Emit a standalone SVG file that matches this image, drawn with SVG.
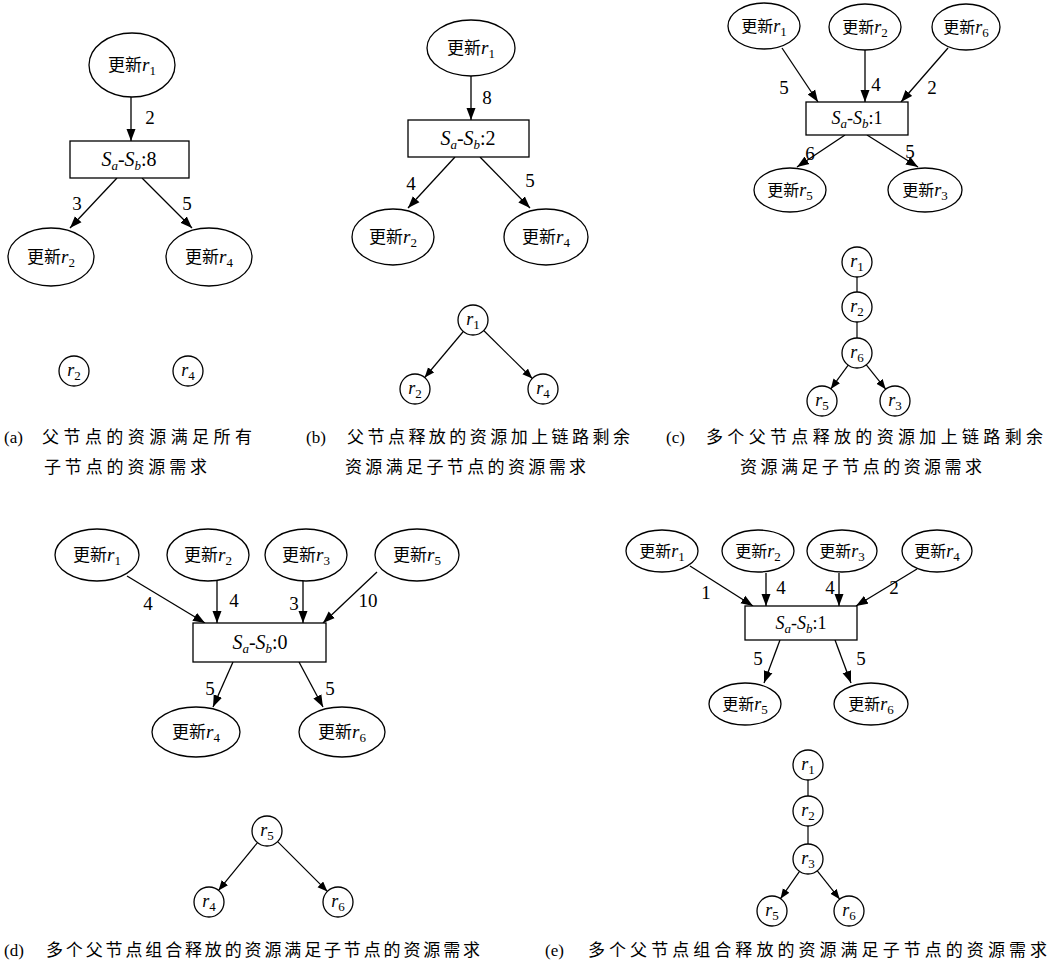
<svg xmlns="http://www.w3.org/2000/svg" width="1051" height="972" viewBox="0 0 1051 972">
<style>
.shape{fill:#fff;stroke:#000;stroke-width:1.3}
.e{stroke:#000;stroke-width:1.3;fill:none;marker-end:url(#ah)}
.es{stroke:#000;stroke-width:1.2;fill:none;marker-end:url(#ahs)}
.l{stroke:#000;stroke-width:1.2;fill:none}
text{font-family:"Liberation Serif","Noto Sans CJK SC",serif;fill:#000}
.nt{font-size:19px;text-anchor:middle}
.nc{font-size:18px;text-anchor:middle}
.bx{font-size:20px;text-anchor:middle}
.bxs{font-size:18px;text-anchor:middle}
.ns{font-size:18px;text-anchor:middle}
.cj{font-family:"Noto Sans CJK SC","Liberation Serif",sans-serif;font-size:17px}
.nc .cj{font-size:16px}
.it{font-style:italic}
.sb{font-size:13px}
.lb{font-size:19px;text-anchor:middle}
.cap{font-size:17px}
.capc{font-family:"Noto Sans CJK SC",sans-serif;font-size:17px}
</style>
<defs>
<marker id="ah" markerUnits="userSpaceOnUse" markerWidth="13" markerHeight="10" refX="12" refY="5" orient="auto"><path d="M0,0.5 L12,5 L0,9.5 z" fill="#000"/></marker>
<marker id="ahs" markerUnits="userSpaceOnUse" markerWidth="11" markerHeight="9" refX="10" refY="4" orient="auto"><path d="M0,0 L10,4 L0,8 z" fill="#000"/></marker>
</defs>

<g id="connectors">
<line class="e" x1="131" y1="97" x2="131" y2="141"/>
<line class="e" x1="117" y1="178" x2="70" y2="228"/>
<line class="e" x1="142" y1="178" x2="192" y2="228"/>
<line class="e" x1="471" y1="76" x2="471" y2="120"/>
<line class="e" x1="455" y1="157" x2="408" y2="208"/>
<line class="e" x1="480" y1="157" x2="530" y2="208"/>
<line class="es" x1="463.3" y1="331.5" x2="424.7" y2="377.5"/>
<line class="es" x1="483.7" y1="330.5" x2="532.3" y2="378.5"/>
<line class="e" x1="782" y1="48" x2="818" y2="102"/>
<line class="e" x1="865" y1="50" x2="865" y2="102"/>
<line class="e" x1="948" y1="48" x2="901" y2="102"/>
<line class="e" x1="845" y1="135" x2="797" y2="167"/>
<line class="e" x1="867" y1="135" x2="918" y2="167"/>
<line class="l" x1="857" y1="277" x2="857" y2="292"/>
<line class="l" x1="857" y1="322" x2="857" y2="338"/>
<line class="es" x1="848.2" y1="365.1" x2="830.8" y2="388.9"/>
<line class="es" x1="866.3" y1="364.8" x2="885.7" y2="389.2"/>
<line class="e" x1="127" y1="576" x2="205" y2="623"/>
<line class="e" x1="217" y1="581" x2="217" y2="623"/>
<line class="e" x1="303" y1="581" x2="303" y2="623"/>
<line class="e" x1="377" y1="572" x2="323" y2="623"/>
<line class="e" x1="233" y1="662" x2="213" y2="707"/>
<line class="e" x1="299" y1="662" x2="323" y2="707"/>
<line class="es" x1="257.5" y1="842.6" x2="218.5" y2="890.4"/>
<line class="es" x1="277.6" y1="841.6" x2="327.4" y2="891.4"/>
<line class="e" x1="690" y1="566" x2="753" y2="606"/>
<line class="e" x1="766" y1="573" x2="766" y2="606"/>
<line class="e" x1="839" y1="573" x2="839" y2="606"/>
<line class="e" x1="917" y1="569" x2="856" y2="606"/>
<line class="e" x1="780" y1="640" x2="764" y2="683"/>
<line class="e" x1="835" y1="640" x2="851" y2="683"/>
<line class="l" x1="808" y1="780" x2="808" y2="796"/>
<line class="l" x1="808" y1="826" x2="808" y2="844"/>
<line class="es" x1="799.5" y1="871.3" x2="780.5" y2="898.7"/>
<line class="es" x1="817.3" y1="870.8" x2="839.7" y2="899.2"/>
</g>

<g id="edge-labels">
<text class="lb" x="150" y="124">2</text>
<text class="lb" x="77" y="210">3</text>
<text class="lb" x="187" y="210">5</text>
<text class="lb" x="487" y="104">8</text>
<text class="lb" x="411" y="190">4</text>
<text class="lb" x="530" y="187">5</text>
<text class="lb" x="784" y="94">5</text>
<text class="lb" x="876" y="91">4</text>
<text class="lb" x="932" y="94">2</text>
<text class="lb" x="810" y="160">6</text>
<text class="lb" x="910" y="158">5</text>
<text class="lb" x="148" y="610">4</text>
<text class="lb" x="234" y="607">4</text>
<text class="lb" x="294" y="610">3</text>
<text class="lb" x="368" y="607">10</text>
<text class="lb" x="210" y="695">5</text>
<text class="lb" x="330" y="695">5</text>
<text class="lb" x="706" y="599">1</text>
<text class="lb" x="781" y="594">4</text>
<text class="lb" x="830" y="594">4</text>
<text class="lb" x="894" y="594">2</text>
<text class="lb" x="758" y="665">5</text>
<text class="lb" x="861" y="665">5</text>
</g>

<g id="a-r1"><ellipse class="shape" cx="132" cy="65" rx="43" ry="32"/><text class="nt" x="132" y="71"><tspan class="cj">更新</tspan><tspan class="it">r</tspan><tspan class="sb" dy="4">1</tspan></text></g>
<g id="a-box"><rect class="shape" x="70" y="141" width="119" height="37"/><text class="bx" x="129" y="166"><tspan class="it">S</tspan><tspan class="it sb" dy="4">a</tspan><tspan dy="-4">-</tspan><tspan class="it">S</tspan><tspan class="it sb" dy="4">b</tspan><tspan dy="-4">:8</tspan></text></g>
<g id="a-r2"><ellipse class="shape" cx="51" cy="257" rx="43" ry="29"/><text class="nt" x="51" y="263"><tspan class="cj">更新</tspan><tspan class="it">r</tspan><tspan class="sb" dy="4">2</tspan></text></g>
<g id="a-r4"><ellipse class="shape" cx="209" cy="257" rx="43" ry="29"/><text class="nt" x="209" y="263"><tspan class="cj">更新</tspan><tspan class="it">r</tspan><tspan class="sb" dy="4">4</tspan></text></g>
<g id="a-s2"><circle class="shape" cx="74" cy="371" r="15"/><text class="ns" x="74" y="376"><tspan class="it">r</tspan><tspan class="sb" dy="4">2</tspan></text></g>
<g id="a-s4"><circle class="shape" cx="188" cy="371" r="15"/><text class="ns" x="188" y="376"><tspan class="it">r</tspan><tspan class="sb" dy="4">4</tspan></text></g>

<g id="b-r1"><ellipse class="shape" cx="471" cy="48" rx="44" ry="28"/><text class="nt" x="471" y="54"><tspan class="cj">更新</tspan><tspan class="it">r</tspan><tspan class="sb" dy="4">1</tspan></text></g>
<g id="b-box"><rect class="shape" x="408" y="120" width="121" height="37"/><text class="bx" x="468" y="145"><tspan class="it">S</tspan><tspan class="it sb" dy="4">a</tspan><tspan dy="-4">-</tspan><tspan class="it">S</tspan><tspan class="it sb" dy="4">b</tspan><tspan dy="-4">:2</tspan></text></g>
<g id="b-r2"><ellipse class="shape" cx="393" cy="237" rx="41" ry="28"/><text class="nt" x="393" y="243"><tspan class="cj">更新</tspan><tspan class="it">r</tspan><tspan class="sb" dy="4">2</tspan></text></g>
<g id="b-r4"><ellipse class="shape" cx="546" cy="237" rx="42" ry="28"/><text class="nt" x="546" y="243"><tspan class="cj">更新</tspan><tspan class="it">r</tspan><tspan class="sb" dy="4">4</tspan></text></g>
<g id="b-s1"><circle class="shape" cx="473" cy="320" r="15"/><text class="ns" x="473" y="325"><tspan class="it">r</tspan><tspan class="sb" dy="4">1</tspan></text></g>
<g id="b-s2"><circle class="shape" cx="415" cy="389" r="15"/><text class="ns" x="415" y="394"><tspan class="it">r</tspan><tspan class="sb" dy="4">2</tspan></text></g>
<g id="b-s4"><circle class="shape" cx="543" cy="389" r="15"/><text class="ns" x="543" y="394"><tspan class="it">r</tspan><tspan class="sb" dy="4">4</tspan></text></g>

<g id="c-r1"><ellipse class="shape" cx="764" cy="26" rx="36" ry="23"/><text class="nc" x="764" y="32"><tspan class="cj">更新</tspan><tspan class="it">r</tspan><tspan class="sb" dy="4">1</tspan></text></g>
<g id="c-r2"><ellipse class="shape" cx="865" cy="27" rx="36" ry="23"/><text class="nc" x="865" y="33"><tspan class="cj">更新</tspan><tspan class="it">r</tspan><tspan class="sb" dy="4">2</tspan></text></g>
<g id="c-r6"><ellipse class="shape" cx="966" cy="27" rx="34" ry="23"/><text class="nc" x="966" y="33"><tspan class="cj">更新</tspan><tspan class="it">r</tspan><tspan class="sb" dy="4">6</tspan></text></g>
<g id="c-box"><rect class="shape" x="806" y="102" width="102" height="33"/><text class="bxs" x="857" y="124"><tspan class="it">S</tspan><tspan class="it sb" dy="4">a</tspan><tspan dy="-4">-</tspan><tspan class="it">S</tspan><tspan class="it sb" dy="4">b</tspan><tspan dy="-4">:1</tspan></text></g>
<g id="c-r5"><ellipse class="shape" cx="790" cy="190" rx="36" ry="22"/><text class="nc" x="790" y="196"><tspan class="cj">更新</tspan><tspan class="it">r</tspan><tspan class="sb" dy="4">5</tspan></text></g>
<g id="c-r3"><ellipse class="shape" cx="925" cy="190" rx="37" ry="22"/><text class="nc" x="925" y="196"><tspan class="cj">更新</tspan><tspan class="it">r</tspan><tspan class="sb" dy="4">3</tspan></text></g>
<g id="c-s1"><circle class="shape" cx="857" cy="262" r="15"/><text class="ns" x="857" y="267"><tspan class="it">r</tspan><tspan class="sb" dy="4">1</tspan></text></g>
<g id="c-s2"><circle class="shape" cx="857" cy="307" r="15"/><text class="ns" x="857" y="312"><tspan class="it">r</tspan><tspan class="sb" dy="4">2</tspan></text></g>
<g id="c-s6"><circle class="shape" cx="857" cy="353" r="15"/><text class="ns" x="857" y="358"><tspan class="it">r</tspan><tspan class="sb" dy="4">6</tspan></text></g>
<g id="c-s5"><circle class="shape" cx="822" cy="401" r="15"/><text class="ns" x="822" y="406"><tspan class="it">r</tspan><tspan class="sb" dy="4">5</tspan></text></g>
<g id="c-s3"><circle class="shape" cx="895" cy="401" r="15"/><text class="ns" x="895" y="406"><tspan class="it">r</tspan><tspan class="sb" dy="4">3</tspan></text></g>

<g id="d-r1"><ellipse class="shape" cx="97" cy="555" rx="42" ry="26"/><text class="nt" x="97" y="561"><tspan class="cj">更新</tspan><tspan class="it">r</tspan><tspan class="sb" dy="4">1</tspan></text></g>
<g id="d-r2"><ellipse class="shape" cx="208" cy="555" rx="41" ry="26"/><text class="nt" x="208" y="561"><tspan class="cj">更新</tspan><tspan class="it">r</tspan><tspan class="sb" dy="4">2</tspan></text></g>
<g id="d-r3"><ellipse class="shape" cx="306" cy="555" rx="41" ry="26"/><text class="nt" x="306" y="561"><tspan class="cj">更新</tspan><tspan class="it">r</tspan><tspan class="sb" dy="4">3</tspan></text></g>
<g id="d-r5"><ellipse class="shape" cx="417" cy="555" rx="42" ry="26"/><text class="nt" x="417" y="561"><tspan class="cj">更新</tspan><tspan class="it">r</tspan><tspan class="sb" dy="4">5</tspan></text></g>
<g id="d-box"><rect class="shape" x="193" y="623" width="133" height="39"/><text class="bx" x="260" y="649"><tspan class="it">S</tspan><tspan class="it sb" dy="4">a</tspan><tspan dy="-4">-</tspan><tspan class="it">S</tspan><tspan class="it sb" dy="4">b</tspan><tspan dy="-4">:0</tspan></text></g>
<g id="d-r4"><ellipse class="shape" cx="196" cy="732" rx="44" ry="25"/><text class="nt" x="196" y="738"><tspan class="cj">更新</tspan><tspan class="it">r</tspan><tspan class="sb" dy="4">4</tspan></text></g>
<g id="d-r6"><ellipse class="shape" cx="342" cy="732" rx="43" ry="25"/><text class="nt" x="342" y="738"><tspan class="cj">更新</tspan><tspan class="it">r</tspan><tspan class="sb" dy="4">6</tspan></text></g>
<g id="d-s5"><circle class="shape" cx="267" cy="831" r="15"/><text class="ns" x="267" y="836"><tspan class="it">r</tspan><tspan class="sb" dy="4">5</tspan></text></g>
<g id="d-s4"><circle class="shape" cx="209" cy="902" r="15"/><text class="ns" x="209" y="907"><tspan class="it">r</tspan><tspan class="sb" dy="4">4</tspan></text></g>
<g id="d-s6"><circle class="shape" cx="338" cy="902" r="15"/><text class="ns" x="338" y="907"><tspan class="it">r</tspan><tspan class="sb" dy="4">6</tspan></text></g>

<g id="e-r1"><ellipse class="shape" cx="662" cy="551" rx="36" ry="21"/><text class="nc" x="662" y="557"><tspan class="cj">更新</tspan><tspan class="it">r</tspan><tspan class="sb" dy="4">1</tspan></text></g>
<g id="e-r2"><ellipse class="shape" cx="758" cy="551" rx="36" ry="21"/><text class="nc" x="758" y="557"><tspan class="cj">更新</tspan><tspan class="it">r</tspan><tspan class="sb" dy="4">2</tspan></text></g>
<g id="e-r3"><ellipse class="shape" cx="842" cy="551" rx="35" ry="21"/><text class="nc" x="842" y="557"><tspan class="cj">更新</tspan><tspan class="it">r</tspan><tspan class="sb" dy="4">3</tspan></text></g>
<g id="e-r4"><ellipse class="shape" cx="937" cy="551" rx="35" ry="21"/><text class="nc" x="937" y="557"><tspan class="cj">更新</tspan><tspan class="it">r</tspan><tspan class="sb" dy="4">4</tspan></text></g>
<g id="e-box"><rect class="shape" x="745" y="606" width="112" height="34"/><text class="bxs" x="801" y="629"><tspan class="it">S</tspan><tspan class="it sb" dy="4">a</tspan><tspan dy="-4">-</tspan><tspan class="it">S</tspan><tspan class="it sb" dy="4">b</tspan><tspan dy="-4">:1</tspan></text></g>
<g id="e-r5"><ellipse class="shape" cx="745" cy="704" rx="36" ry="21"/><text class="nc" x="745" y="710"><tspan class="cj">更新</tspan><tspan class="it">r</tspan><tspan class="sb" dy="4">5</tspan></text></g>
<g id="e-r6"><ellipse class="shape" cx="871" cy="704" rx="37" ry="21"/><text class="nc" x="871" y="710"><tspan class="cj">更新</tspan><tspan class="it">r</tspan><tspan class="sb" dy="4">6</tspan></text></g>
<g id="e-s1"><circle class="shape" cx="808" cy="765" r="15"/><text class="ns" x="808" y="770"><tspan class="it">r</tspan><tspan class="sb" dy="4">1</tspan></text></g>
<g id="e-s2"><circle class="shape" cx="808" cy="811" r="15"/><text class="ns" x="808" y="816"><tspan class="it">r</tspan><tspan class="sb" dy="4">2</tspan></text></g>
<g id="e-s3"><circle class="shape" cx="808" cy="859" r="15"/><text class="ns" x="808" y="864"><tspan class="it">r</tspan><tspan class="sb" dy="4">3</tspan></text></g>
<g id="e-s5"><circle class="shape" cx="772" cy="911" r="15"/><text class="ns" x="772" y="916"><tspan class="it">r</tspan><tspan class="sb" dy="4">5</tspan></text></g>
<g id="e-s6"><circle class="shape" cx="849" cy="911" r="15"/><text class="ns" x="849" y="916"><tspan class="it">r</tspan><tspan class="sb" dy="4">6</tspan></text></g>

<g id="captions">
<text class="cap" x="4" y="443">(a)</text>
<text class="capc" x="42" y="443" textLength="210" lengthAdjust="spacing">父节点的资源满足所有</text>
<text class="capc" x="44" y="473" textLength="163" lengthAdjust="spacing">子节点的资源需求</text>
<text class="cap" x="306" y="443">(b)</text>
<text class="capc" x="347" y="443" textLength="283" lengthAdjust="spacing">父节点释放的资源加上链路剩余</text>
<text class="capc" x="345" y="473" textLength="241" lengthAdjust="spacing">资源满足子节点的资源需求</text>
<text class="cap" x="666" y="443">(c)</text>
<text class="capc" x="706" y="443" textLength="337" lengthAdjust="spacing">多个父节点释放的资源加上链路剩余</text>
<text class="capc" x="740" y="473" textLength="242" lengthAdjust="spacing">资源满足子节点的资源需求</text>
<text class="cap" x="4" y="956">(d)</text>
<text class="capc" x="46" y="956" textLength="434" lengthAdjust="spacing">多个父节点组合释放的资源满足子节点的资源需求</text>
<text class="cap" x="545" y="956">(e)</text>
<text class="capc" x="588" y="956" textLength="459" lengthAdjust="spacing">多个父节点组合释放的资源满足子节点的资源需求</text>
</g>
</svg>
